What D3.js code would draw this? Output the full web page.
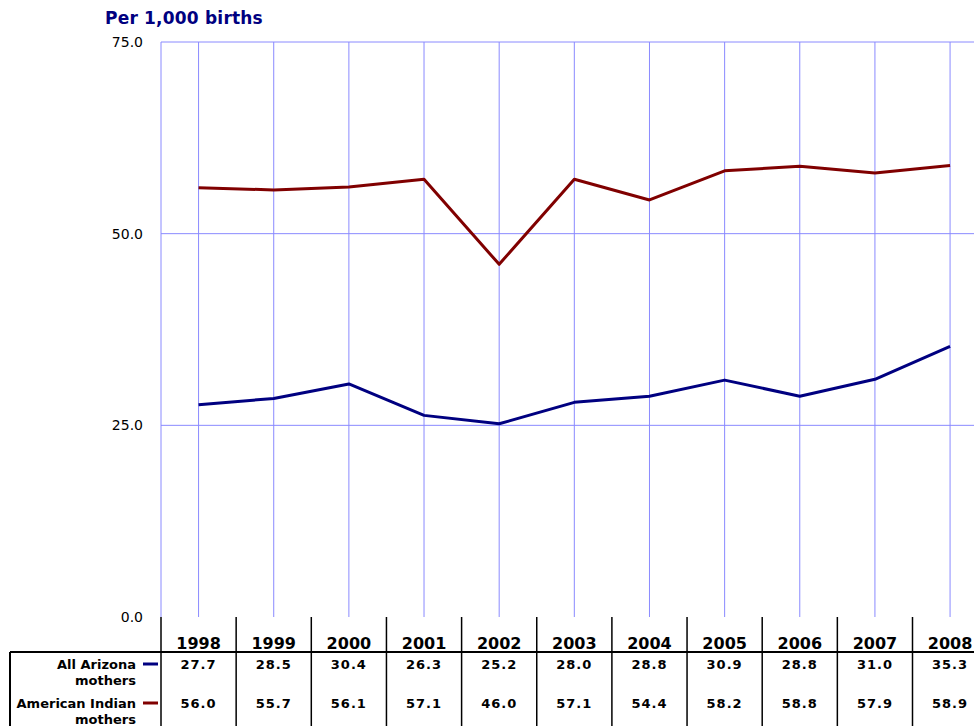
<!DOCTYPE html>
<html>
<head>
<meta charset="utf-8">
<script src="https://cdn.jsdelivr.net/npm/d3@7"></script>
<style>
  body { margin: 0; background: #fff; }
  text { font-family: "DejaVu Sans", Verdana, sans-serif; }
</style>
</head>
<body>
<script>
// chart values
let years = ["1998", "1999", "2000", "2001", "2002", "2003", "2004", "2005", "2006", "2007", "2008"];
let arizona = [27.7, 28.5, 30.4, 26.3, 25.2, 28.0, 28.8, 30.9, 28.8, 31.0, 35.3];
let indian = [56.0, 55.7, 56.1, 57.1, 46.0, 57.1, 54.4, 58.2, 58.8, 57.9, 58.9];
let yTicks = [0, 25, 50, 75];
let seriesNames = [["All Arizona", "mothers"], ["American Indian", "mothers"]];
let seriesColors = ["#000080", "#800000"];

let width = 974,
    height = 726,
    plot = {left: 161, top: 42, bottom: 617, right: 974},
    step = 75.15,
    gridColor = "#8a8aff";

let svg = d3.select("body").append("svg")
    .attr("width", width)
    .attr("height", height);

let xScale = d3.scaleBand(years, [plot.left, plot.left + step * years.length]);
let yScale = d3.scaleLinear([0, 75], [plot.bottom, plot.top]);

// title
svg.append("text")
    .attr("x", 105)
    .attr("y", 24)
    .attr("font-size", "17px")
    .attr("font-weight", "bold")
    .attr("letter-spacing", "0.2px")
    .attr("fill", "#000080")
    .text("Per 1,000 births");

// horizontal grid
svg.selectAll(".hgrid")
    .data(yTicks.filter(d => d > 0))
    .enter().append("line")
    .attr("class", "hgrid")
    .attr("x1", plot.left).attr("x2", plot.right)
    .attr("y1", d => yScale(d)).attr("y2", d => yScale(d))
    .attr("stroke", gridColor)
    .attr("stroke-width", 1);

// vertical grid at category centres
svg.selectAll(".vgrid")
    .data(years)
    .enter().append("line")
    .attr("class", "vgrid")
    .attr("x1", d => xScale(d) + xScale.bandwidth() / 2)
    .attr("x2", d => xScale(d) + xScale.bandwidth() / 2)
    .attr("y1", plot.top).attr("y2", plot.bottom)
    .attr("stroke", gridColor)
    .attr("stroke-width", 1);

// left axis line
svg.append("line")
    .attr("x1", plot.left).attr("x2", plot.left)
    .attr("y1", plot.top).attr("y2", plot.bottom)
    .attr("stroke", gridColor);

// y tick labels
svg.selectAll(".ytick")
    .data(yTicks)
    .enter().append("text")
    .attr("class", "ytick")
    .attr("x", 143)
    .attr("y", d => yScale(d) + 5)
    .attr("text-anchor", "end")
    .attr("font-size", "14px")
    .attr("fill", "#000")
    .text(d => d.toFixed(1));

// lines
let line = d3.line()
    .x((d, i) => xScale(years[i]) + xScale.bandwidth() / 2)
    .y(d => yScale(d));

[arizona, indian].forEach((s, k) => {
    svg.append("path")
        .datum(s)
        .attr("d", line)
        .attr("fill", "none")
        .attr("stroke", seriesColors[k])
        .attr("stroke-width", 3)
        .attr("stroke-linejoin", "round");
});

// data table
let headerBottom = 652,
    tableLeft = 10;

svg.append("line")
    .attr("x1", tableLeft).attr("x2", width)
    .attr("y1", headerBottom).attr("y2", headerBottom)
    .attr("stroke", "#000").attr("stroke-width", 2);

svg.append("line")
    .attr("x1", tableLeft).attr("x2", tableLeft)
    .attr("y1", headerBottom).attr("y2", height)
    .attr("stroke", "#000").attr("stroke-width", 2);

svg.selectAll(".colline")
    .data(years)
    .enter().append("line")
    .attr("class", "colline")
    .attr("x1", d => xScale(d)).attr("x2", d => xScale(d))
    .attr("y1", plot.bottom).attr("y2", height)
    .attr("stroke", "#000").attr("stroke-width", 1.5);

svg.selectAll(".year")
    .data(years)
    .enter().append("text")
    .attr("class", "year")
    .attr("x", d => xScale(d) + xScale.bandwidth() / 2)
    .attr("y", 649)
    .attr("text-anchor", "middle")
    .attr("font-size", "16px")
    .attr("font-weight", "bold")
    .attr("fill", "#000")
    .text(d => d);

let rowY = [669, 708];

[arizona, indian].forEach((s, k) => {
    svg.selectAll(".val" + k)
        .data(s)
        .enter().append("text")
        .attr("class", "val" + k)
        .attr("x", (d, i) => xScale(years[i]) + xScale.bandwidth() / 2)
        .attr("y", rowY[k])
        .attr("text-anchor", "middle")
        .attr("font-size", "13px")
        .attr("font-weight", "bold")
        .attr("letter-spacing", "1px")
        .attr("fill", "#000")
        .text(d => d.toFixed(1));

    let label = svg.append("text")
        .attr("x", 136)
        .attr("y", rowY[k])
        .attr("text-anchor", "end")
        .attr("font-size", "13px")
        .attr("font-weight", "bold")
        .attr("fill", "#000");
    label.append("tspan").attr("x", 136).text(seriesNames[k][0]);
    label.append("tspan").attr("x", 136).attr("dy", 16).text(seriesNames[k][1]);

    svg.append("line")
        .attr("x1", 143).attr("x2", 158)
        .attr("y1", rowY[k] - 5).attr("y2", rowY[k] - 5)
        .attr("stroke", seriesColors[k])
        .attr("stroke-width", 3);
});
</script>
</body>
</html>
